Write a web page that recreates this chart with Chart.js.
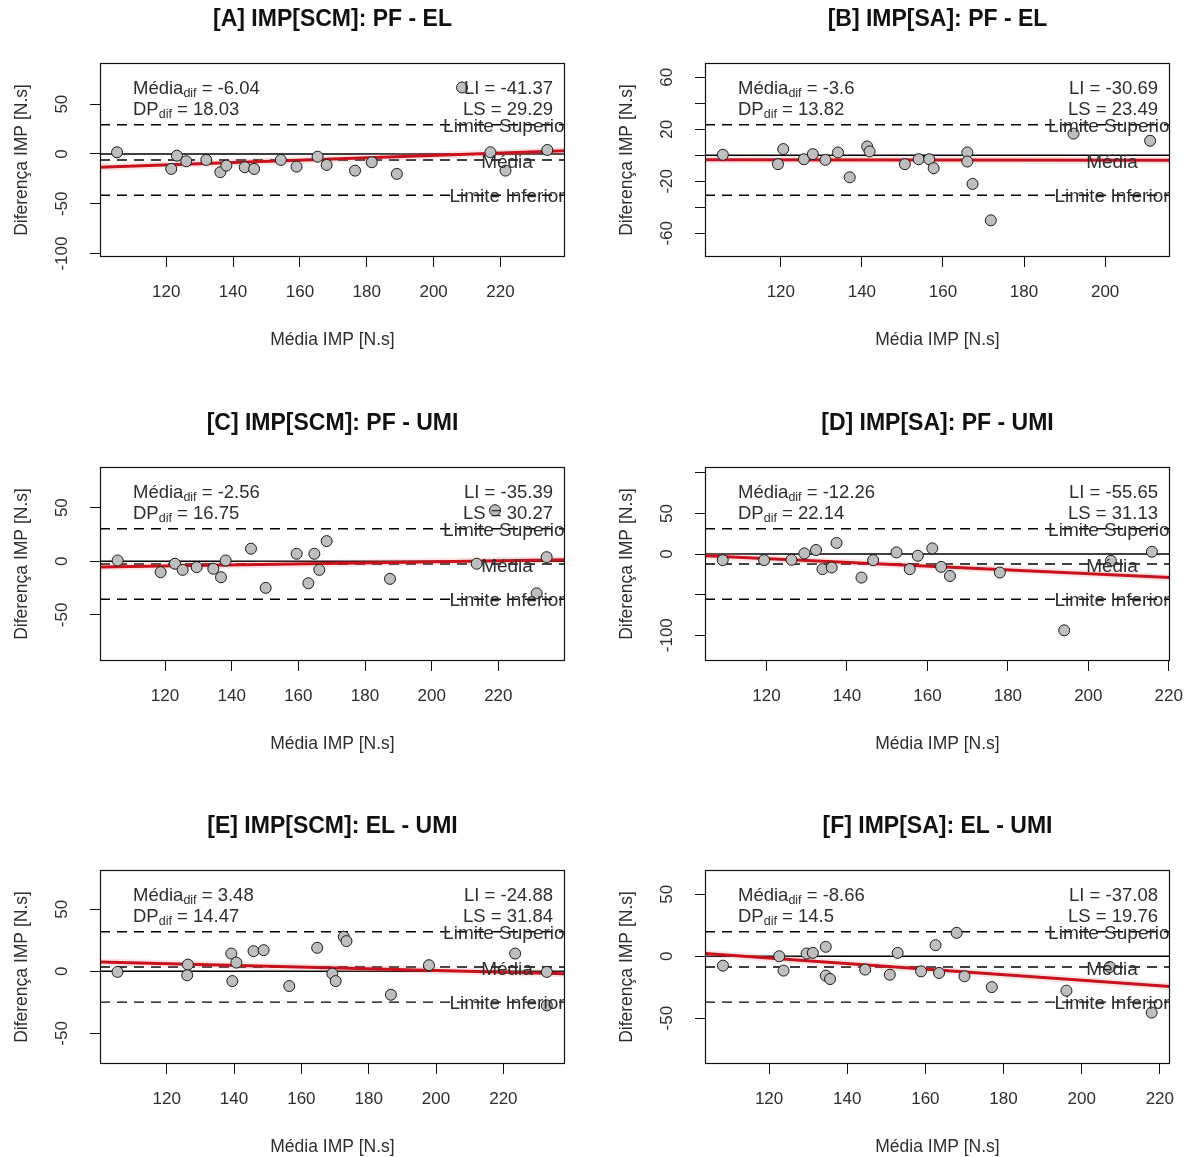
<!DOCTYPE html>
<html lang="pt">
<head>
<meta charset="utf-8">
<title>Diferença IMP x Média IMP</title>
<script src="https://cdn.jsdelivr.net/npm/chart.js@4.4.1/dist/chart.umd.min.js"></script>
<style>
  html, body { margin: 0; padding: 0; background: #fff; overflow: hidden; }
  body { width: 1194px; height: 1157px; position: relative; }
  .panel { position: absolute; width: 597px; height: 390px; }
</style>
</head>
<body>
<div class="panel" style="left:0;top:0"><canvas id="chartA" width="597" height="390"></canvas></div>
<div class="panel" style="left:605px;top:0"><canvas id="chartB" width="597" height="390"></canvas></div>
<div class="panel" style="left:0;top:404px"><canvas id="chartC" width="597" height="390"></canvas></div>
<div class="panel" style="left:605px;top:404px"><canvas id="chartD" width="597" height="390"></canvas></div>
<div class="panel" style="left:0;top:807px"><canvas id="chartE" width="597" height="390"></canvas></div>
<div class="panel" style="left:605px;top:807px"><canvas id="chartF" width="597" height="390"></canvas></div>
<script>
const titles = [
  "[A] IMP[SCM]: PF - EL",
  "[B] IMP[SA]: PF - EL",
  "[C] IMP[SCM]: PF - UMI",
  "[D] IMP[SA]: PF - UMI",
  "[E] IMP[SCM]: EL - UMI",
  "[F] IMP[SA]: EL - UMI",
];

// média entre métodos (x) e diferença entre métodos (y), por comparação
const mediaA = [105.3, 121.5, 123.2, 126, 132, 136.2, 138, 143.5, 146.3, 154.3, 159, 165.3, 168, 176.5, 181.5, 189, 208.5, 217, 221.5, 234];
const difA = [1.7, -15, -1.7, -7.3, -6, -18.3, -11.7, -13.3, -15, -6, -12.7, -2.7, -11, -16.7, -8.3, -20, 66.7, 1.7, -16.7, 4];

const mediaB = [105.7, 119.3, 120.6, 125.7, 127.9, 131, 134.1, 137, 141.3, 141.9, 150.6, 154, 156.6, 157.7, 166, 166, 167.3, 171.8, 192.2, 211.1];
const difB = [0.4, -6.8, 4.8, -3, 0.9, -3.5, 2.2, -16.9, 6.8, 3, -6.8, -3, -3, -9.9, 2.2, -4.8, -22, -50, 16.7, 11.2];

const mediaC = [105.8, 118.7, 123, 125.3, 129.5, 134.5, 136.8, 138.2, 145.8, 150.2, 159.5, 163, 164.8, 166.3, 168.5, 187.5, 213.5, 219, 231.5, 234.5];
const difC = [0.7, -10.2, -2.3, -8, -5.5, -7, -14.9, 0.7, 11.7, -24.8, 7, -20.5, 7, -8, 18.8, -16.4, -2.3, 47.6, -29.9, 3.8];

const mediaD = [109.1, 119.4, 126.2, 129.4, 132.3, 133.9, 136.2, 137.4, 143.6, 146.5, 152.3, 155.6, 157.6, 161.2, 163.4, 165.6, 178, 194, 205.6, 215.8];
const difD = [-7.5, -7.5, -7.1, 0.8, 5, -18.6, -16.6, 13.7, -29, -7.5, 2, -18.6, -2.1, 7, -15.8, -27, -22.8, -94, -8.3, 2.8];

const mediaE = [105.4, 126.3, 126.1, 139.2, 140.7, 139.5, 145.8, 148.8, 156.4, 164.7, 169.2, 170.2, 172.6, 173.4, 186.6, 197.9, 223.5, 232.9, 232.9];
const difE = [-0.5, 5.4, -3.2, 14.3, 7, -7.9, 16.2, 17, -11.9, 18.9, -1.9, -7.9, 27.8, 24.3, -18.9, 4.9, 14.3, -0.5, -27.5];

const mediaF = [108.2, 122.6, 123.7, 129.6, 131.2, 134.5, 134.5, 135.6, 144.6, 150.9, 152.9, 158.9, 162.6, 163.5, 168, 170, 177, 196.1, 207.2, 217.9];
const difF = [-7.6, 0, -11.6, 2.2, 2.7, 7.6, -15.7, -18.4, -10.8, -14.9, 2.7, -12.2, 8.9, -13.5, 18.9, -16.2, -24.9, -27.8, -8.7, -45.5];

// estatísticas de concordância
const meanDif = [-6.04, -3.6, -2.56, -12.26, 3.48, -8.66];
const sdDif = [18.03, 13.82, 16.75, 22.14, 14.47, 14.5];
const limInf = [-41.37, -30.69, -35.39, -55.65, -24.88, -37.08];
const limSup = [29.29, 23.49, 30.27, 31.13, 31.84, 19.76];

// reta de tendência da diferença (valor no início e no fim do eixo x)
const trendStart = [-13.3, -3.4, -5.3, -2.1, 7.5, 2.2];
const trendEnd = [3.3, -3.8, 1.5, -29, -1.9, -24.4];

// limites dos eixos
const xMin = [100.2, 101.3, 100.5, 104.7, 100.2, 103.6];
const xMax = [239.3, 216, 240, 220.3, 238.3, 222.6];
const yMin = [-103.4, -78.2, -93, -131.8, -74.7, -87];
const yMax = [91.3, 71, 87.9, 107.3, 81.6, 69.6];

// marcas dos eixos
const xTicks = [
  [120, 140, 160, 180, 200, 220],
  [120, 140, 160, 180, 200],
  [120, 140, 160, 180, 200, 220],
  [120, 140, 160, 180, 200, 220],
  [120, 140, 160, 180, 200, 220],
  [120, 140, 160, 180, 200, 220],
];
const yTicks = [
  [-100, -50, 0, 50],
  [-60, -40, -20, 0, 20, 40, 60],
  [-50, 0, 50],
  [-100, -50, 0, 50, 100],
  [-50, 0, 50],
  [-50, 0, 50],
];
const yTickLabels = [
  [-100, -50, 0, 50],
  [-60, -20, 20, 60],
  [-50, 0, 50],
  [-100, 0, 50],
  [-50, 0, 50],
  [-50, 0, 50],
];

const FAMILY = '"Liberation Sans", Arial, Helvetica, sans-serif';
const TEXT_COLOR = "#2e2e2e";
const textFont = `18.5px ${FAMILY}`;
const subFont = `12.5px ${FAMILY}`;
const lineLabelFont = `19px ${FAMILY}`;

Chart.defaults.font.family = FAMILY;
Chart.defaults.color = TEXT_COLOR;

function drawSubscripted(ctx, x, y, main, sub, rest) {
  ctx.font = textFont;
  ctx.fillText(main, x, y);
  x += ctx.measureText(main).width;
  ctx.font = subFont;
  ctx.fillText(sub, x, y + 5);
  x += ctx.measureText(sub).width;
  ctx.font = textFont;
  ctx.fillText(rest, x, y);
}

// stats, limit labels and the plot frame
const blandAltmanText = {
  id: "blandAltmanText",
  afterDatasetsDraw(chart, args, opts) {
    const { ctx, chartArea: area } = chart;
    const y = chart.scales.y;

    ctx.save();
    ctx.fillStyle = TEXT_COLOR;
    ctx.textBaseline = "middle";
    ctx.textAlign = "left";
    drawSubscripted(ctx, area.left + 33, area.top + 26, "Média", "dif", " = " + opts.mean);
    drawSubscripted(ctx, area.left + 33, area.top + 47, "DP", "dif", " = " + opts.sd);

    ctx.font = textFont;
    ctx.textAlign = "right";
    ctx.fillText("LI = " + opts.li, area.right - 12, area.top + 26);
    ctx.fillText("LS = " + opts.ls, area.right - 12, area.top + 47);

    // labels sit on their lines and get cut by the frame
    ctx.beginPath();
    ctx.rect(area.left, area.top, area.right - area.left, area.bottom - area.top);
    ctx.clip();
    ctx.font = lineLabelFont;
    ctx.textAlign = "center";
    const cx = area.right - 58;
    ctx.fillText("Limite Superior", cx, y.getPixelForValue(opts.ls) + 2);
    ctx.fillText("Média", cx, y.getPixelForValue(opts.mean) + 3);
    ctx.fillText("Limite Inferior", cx, y.getPixelForValue(opts.li) + 2);
    ctx.restore();

    ctx.save();
    ctx.strokeStyle = "#111";
    ctx.lineWidth = 1.2;
    ctx.strokeRect(area.left + 0.5, area.top + 0.5, area.right - area.left - 1, area.bottom - area.top - 1);
    ctx.restore();
  },
};

function hLine(i, value, dash) {
  return {
    data: [{ x: xMin[i], y: value }, { x: xMax[i], y: value }],
    showLine: true,
    pointRadius: 0,
    borderColor: "#000",
    borderWidth: 1.4,
    borderDash: dash,
  };
}

function tickPadding(labels) {
  const c = document.createElement("canvas").getContext("2d");
  c.font = `17px ${FAMILY}`;
  const widest = Math.max(...labels.map((v) => c.measureText(String(v)).width));
  return 28 - widest / 2;
}

function buildPanel(id, i, media, dif) {
  const points = media.map((m, k) => ({ x: m, y: dif[k] }));
  const trend = [{ x: xMin[i], y: trendStart[i] }, { x: xMax[i], y: trendEnd[i] }];

  new Chart(document.getElementById(id), {
    type: "scatter",
    data: {
      datasets: [
        {
          data: points,
          pointRadius: 5.5,
          backgroundColor: "#bebebe",
          borderColor: "#1a1a1a",
          borderWidth: 1,
        },
        {
          data: trend,
          showLine: true,
          pointRadius: 0,
          borderColor: "#c8121e",
          borderWidth: 3,
        },
        {
          data: trend,
          showLine: true,
          pointRadius: 0,
          borderColor: "rgba(240, 130, 130, 0.22)",
          borderWidth: 7,
        },
        hLine(i, 0, []),
        hLine(i, meanDif[i], [10, 7]),
        hLine(i, limInf[i], [10, 7]),
        hLine(i, limSup[i], [10, 7]),
      ],
    },
    options: {
      responsive: false,
      animation: false,
      events: [],
      layout: { padding: { top: 0, right: 32, bottom: 0, left: 0 } },
      plugins: {
        legend: { display: false },
        tooltip: { enabled: false },
        title: {
          display: true,
          text: titles[i],
          fullSize: false,
          color: "#111",
          font: { size: 23, weight: "bold" },
          padding: { top: 6, bottom: 29.4 },
        },
        blandAltmanText: {
          mean: meanDif[i],
          sd: sdDif[i],
          li: limInf[i],
          ls: limSup[i],
        },
      },
      scales: {
        x: {
          type: "linear",
          min: xMin[i],
          max: xMax[i],
          afterFit: (scale) => {
            scale.height = 133;
          },
          afterBuildTicks: (scale) => {
            scale.ticks = xTicks[i].map((v) => ({ value: v }));
          },
          grid: { drawOnChartArea: false, tickLength: 10, tickColor: "#111" },
          border: { display: false },
          ticks: { autoSkip: false, maxRotation: 0, padding: 15, color: TEXT_COLOR, font: { size: 17 } },
          title: {
            display: true,
            text: "Média IMP [N.s]",
            color: TEXT_COLOR,
            font: { size: 17.5 },
            padding: { top: 0, bottom: 39.5 },
          },
        },
        y: {
          type: "linear",
          min: yMin[i],
          max: yMax[i],
          afterFit: (scale) => {
            scale.width = 100;
          },
          afterBuildTicks: (scale) => {
            scale.ticks = yTicks[i].map((v) => ({ value: v }));
          },
          grid: { drawOnChartArea: false, tickLength: 10, tickColor: "#111" },
          border: { display: false },
          ticks: {
            autoSkip: false,
            minRotation: 90,
            maxRotation: 90,
            crossAlign: "center",
            padding: tickPadding(yTickLabels[i]),
            color: TEXT_COLOR,
            font: { size: 17 },
            callback: (value) => (yTickLabels[i].includes(value) ? String(value) : ""),
          },
          title: {
            display: true,
            text: "Diferença IMP [N.s]",
            color: TEXT_COLOR,
            font: { size: 17.5 },
            padding: { top: 11.5, bottom: 0 },
          },
        },
      },
    },
    plugins: [blandAltmanText],
  });
}

buildPanel("chartA", 0, mediaA, difA);
buildPanel("chartB", 1, mediaB, difB);
buildPanel("chartC", 2, mediaC, difC);
buildPanel("chartD", 3, mediaD, difD);
buildPanel("chartE", 4, mediaE, difE);
buildPanel("chartF", 5, mediaF, difF);
</script>
</body>
</html>
